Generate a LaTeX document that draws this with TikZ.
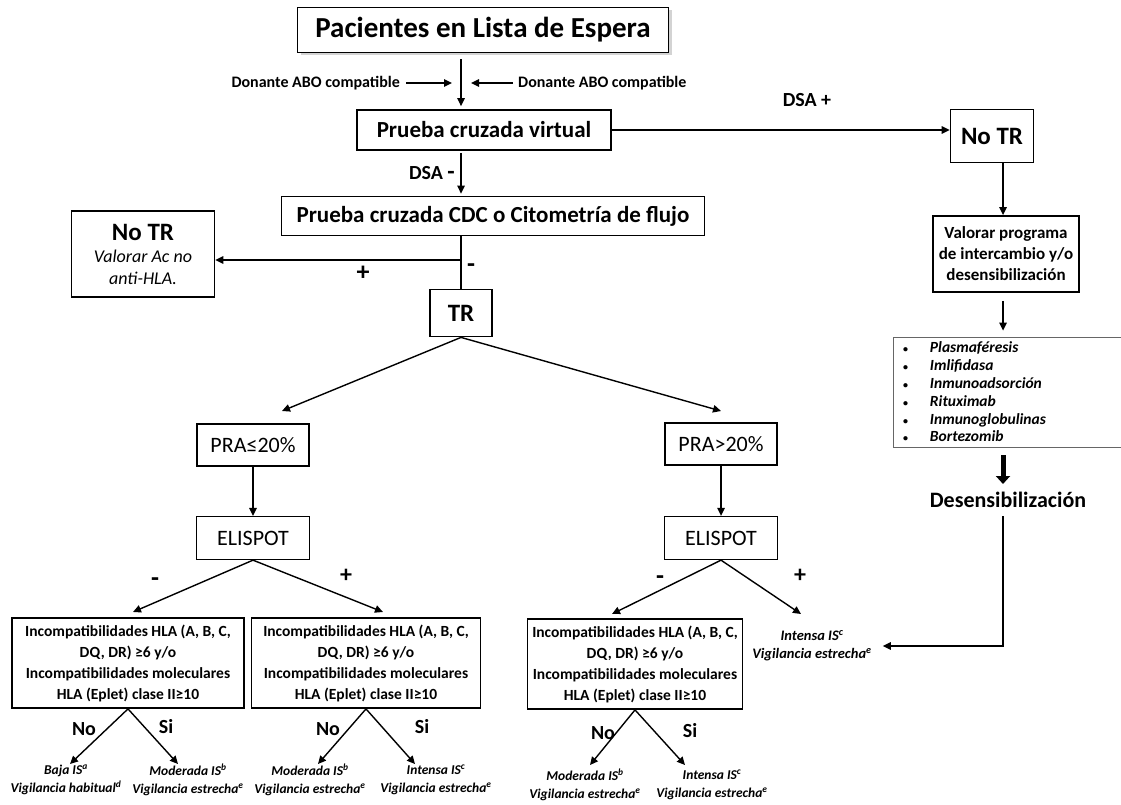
\documentclass[tikz,border=0pt]{standalone}
\usepackage{fontspec}
\setmainfont{Carlito}
\usetikzlibrary{positioning,arrows.meta,shadows}

\tikzset{
  caja/.style={draw, line width=1.8pt, inner sep=0pt, align=center},
  cajafina/.style={draw, line width=1.3pt, inner sep=0pt, align=center, minimum width=112pt, minimum height=42pt, font=\fontsize{22}{24}\selectfont},
  cajahla/.style={caja, minimum height=90pt, font=\fontsize{15.5}{21}\selectfont\bfseries},
  resultado/.style={align=center, inner sep=1pt, font=\fontsize{13.5}{18}\selectfont\bfseries\itshape},
  etiqueta/.style={inner sep=0pt, font=\fontsize{20}{22}\selectfont\bfseries},
  flecha/.style={->, line width=1.4pt},
}

\begin{document}
\begin{tikzpicture}[x=1pt, y=-1pt, > = {Triangle[length=8pt, width=7.5pt]}]
\useasboundingbox (0,0) rectangle (1121,805);

\coordinate (eje) at (461,0);
\coordinate (ejeR) at (1003,0);

\node (lista) [caja, minimum width=371pt, minimum height=45pt, fill=white, font=\fontsize{29}{31}\selectfont\bfseries, drop shadow={shadow xshift=3pt, shadow yshift=-3pt, opacity=0.35}] at (483,30) {Pacientes en Lista de Espera};

\node (donL) [anchor=east, inner sep=0pt, font=\fontsize{16}{18}\selectfont\bfseries] at (400,83) {Donante ABO compatible};
\node (donR) [anchor=west, inner sep=0pt, font=\fontsize{16}{18}\selectfont\bfseries] at (518,83) {Donante ABO compatible};
\coordinate (donLtip) at (452,83);
\coordinate (donRtip) at (471,83);

\node (virtual) [caja, minimum width=254pt, minimum height=40pt, font=\fontsize{23}{25}\selectfont\bfseries] at (484,130) {Prueba cruzada virtual};
\node (dsaneg) [etiqueta, anchor=east] at (455,173) {DSA {\fontsize{24}{24}\selectfont -}};
\node (cdc) [caja, minimum width=423pt, minimum height=39pt, font=\fontsize{23}{25}\selectfont\bfseries] at (493,216) {Prueba cruzada CDC o Citometría de flujo};

\node (notrL) [caja, minimum width=143pt, minimum height=86pt, font=\fontsize{18}{22}\selectfont] at (143,254) {{\fontsize{25}{27}\selectfont\bfseries No TR}\\{\itshape Valorar Ac no}\\{\itshape anti-HLA.}};
\coordinate (cruce) at (461,260);
\node (masL) [etiqueta, font=\fontsize{26}{26}\selectfont\bfseries] at (363,273) {+};
\node (menosL) [etiqueta, font=\fontsize{26}{26}\selectfont\bfseries] at (471,268) {-};
\node (tr) [caja, minimum width=62pt, minimum height=47pt, font=\fontsize{25}{27}\selectfont\bfseries] at (461,313) {TR};

\node (dsapos) [etiqueta] at (807,100) {DSA +};
\node (notrR) [caja, minimum width=83pt, minimum height=53pt, font=\fontsize{25}{27}\selectfont\bfseries] at (992,136) {No TR};
\node (valorar) [caja, minimum width=146pt, minimum height=76pt, font=\fontsize{17}{21}\selectfont\bfseries] at (1006,254) {Valorar programa\\de intercambio y/o\\desensibilización};
\node (terapias) [draw=black!60, line width=0.8pt, inner sep=0pt, minimum width=228pt, minimum height=110pt, text width=228pt, align=left, font=\fontsize{15.5}{17.8}\selectfont\bfseries\itshape] at (1007,392) {%
\hspace*{10pt}{\upshape\fontsize{10}{10}\selectfont\textbullet}\hspace{22pt}Plasmaféresis\\
\hspace*{10pt}{\upshape\fontsize{10}{10}\selectfont\textbullet}\hspace{22pt}Imlifidasa\\
\hspace*{10pt}{\upshape\fontsize{10}{10}\selectfont\textbullet}\hspace{22pt}Inmunoadsorción\\
\hspace*{10pt}{\upshape\fontsize{10}{10}\selectfont\textbullet}\hspace{22pt}Rituximab\\
\hspace*{10pt}{\upshape\fontsize{10}{10}\selectfont\textbullet}\hspace{22pt}Inmunoglobulinas\\
\hspace*{10pt}{\upshape\fontsize{10}{10}\selectfont\textbullet}\hspace{22pt}Bortezomib};
\node (desens) [inner sep=2pt, font=\fontsize{22}{24}\selectfont\bfseries] at (1008,500) {Desensibilización};

\node (praA) [cajafina] at (253,445) {PRA≤20\%};
\node (praB) [cajafina] at (721,444) {PRA>20\%};
\node (eliA) [cajafina, minimum width=113pt, minimum height=43pt] at (253,538) {ELISPOT};
\node (eliB) [cajafina, minimum width=113pt, minimum height=43pt] at (721,538) {ELISPOT};
\coordinate (praAtip) at (282,411);
\coordinate (praBtip) at (721,411);

\node (hlaA) [cajahla, minimum width=232pt] at (128,663) {Incompatibilidades HLA (A, B, C,\\DQ, DR) ≥6 y/o\\Incompatibilidades moleculares\\HLA (Eplet) clase II≥10};
\node (hlaB) [cajahla, minimum width=229pt] at (366,663) {Incompatibilidades HLA (A, B, C,\\DQ, DR) ≥6 y/o\\Incompatibilidades moleculares\\HLA (Eplet) clase II≥10};
\node (hlaC) [cajahla, minimum width=215pt] at (635,664) {Incompatibilidades HLA (A, B, C,\\DQ, DR) ≥6 y/o\\Incompatibilidades moleculares\\HLA (Eplet) clase II≥10};
\node (intR) [resultado, font=\fontsize{14.5}{18}\selectfont\bfseries\itshape] at (812,646) {Intensa IS\textsuperscript{c}\\Vigilancia estrecha\textsuperscript{e}};

\coordinate (hlaAtip) at (133,612);
\coordinate (hlaBtip) at (383,612);
\coordinate (hlaCtip) at (612,614);
\coordinate (intRtip) at (801,614);
\node (menosA) [etiqueta, font=\fontsize{26}{26}\selectfont\bfseries] at (155,582) {-};
\node (masA) [etiqueta, font=\fontsize{24}{24}\selectfont\bfseries] at (346,576) {+};
\node (menosB) [etiqueta, font=\fontsize{26}{26}\selectfont\bfseries] at (660,580) {-};
\node (masB) [etiqueta, font=\fontsize{24}{24}\selectfont\bfseries] at (800,576) {+};

\node (bajaA) [resultado] at (66,780) {Baja IS\textsuperscript{a}\\Vigilancia habitual\textsuperscript{d}};
\node (modA) [resultado] at (188,780) {Moderada IS\textsuperscript{b}\\Vigilancia estrecha\textsuperscript{e}};
\node (modB) [resultado] at (310,780) {Moderada IS\textsuperscript{b}\\Vigilancia estrecha\textsuperscript{e}};
\node (intB) [resultado] at (436,780) {Intensa IS\textsuperscript{c}\\Vigilancia estrecha\textsuperscript{e}};
\node (modC) [resultado] at (585,785) {Moderada IS\textsuperscript{b}\\Vigilancia estrecha\textsuperscript{e}};
\node (intC) [resultado] at (712,785) {Intensa IS\textsuperscript{c}\\Vigilancia estrecha\textsuperscript{e}};
\coordinate (bajaAtip) at (70,764);
\coordinate (modAtip) at (178,764);
\coordinate (modBtip) at (318,764);
\coordinate (intBtip) at (415,764);
\coordinate (modCtip) at (590,765);
\coordinate (intCtip) at (685,765);
\node (noA) [etiqueta] at (84,729) {No};
\node (siA) [etiqueta] at (166,727) {Si};
\node (noB) [etiqueta] at (328,729) {No};
\node (siB) [etiqueta] at (422,727) {Si};
\node (noC) [etiqueta] at (603,733) {No};
\node (siC) [etiqueta] at (690,731) {Si};

\draw[flecha, shorten <=6pt] (donL.east) -- (donLtip);
\draw[flecha, shorten <=5pt] (donR.west) -- (donRtip);
\draw[flecha, shorten <=6pt, shorten >=3pt] (lista.south -| eje) -- (virtual.north -| eje);
\draw[flecha, shorten <=2pt, shorten >=2pt] (virtual.south -| eje) -- (cdc.north -| eje);
\draw[flecha] (virtual.east) -- (virtual.east -| notrR.west);
\draw[line width=1.4pt] (cdc.south -| eje) -- (tr.north);
\draw[flecha] (cruce) -- (cruce -| notrL.east);

\draw[flecha] (tr.south) -- (praAtip);
\draw[flecha] (tr.south) -- (praBtip);
\draw[flecha] (praA) -- (eliA);
\draw[flecha] (praB) -- (eliB);
\draw[flecha] (eliA.south) -- (hlaAtip);
\draw[flecha] (eliA.south) -- (hlaBtip);
\draw[flecha] (eliB.south) -- (hlaCtip);
\draw[flecha] (eliB.south) -- (intRtip);

\draw[flecha] (hlaA.south) -- (bajaAtip);
\draw[flecha] (hlaA.south) -- (modAtip);
\draw[flecha] (hlaB.south) -- (modBtip);
\draw[flecha] (hlaB.south) -- (intBtip);
\draw[flecha] (hlaC.south) -- (modCtip);
\draw[flecha] (hlaC.south) -- (intCtip);

\draw[flecha] (notrR.south -| ejeR) -- (valorar.north -| ejeR);
\draw[flecha, shorten <=8pt, shorten >=6pt] (valorar.south -| ejeR) -- (terapias.north -| ejeR);
\draw[line width=5pt, -{Triangle[length=8pt, width=14pt]}, shorten <=8pt, shorten >=6pt] (terapias.south -| ejeR) -- (desens.north -| ejeR);
\draw[flecha, shorten <=6pt, shorten >=10pt] (desens.south -| ejeR) |- (intR.east);
\end{tikzpicture}
\end{document}
